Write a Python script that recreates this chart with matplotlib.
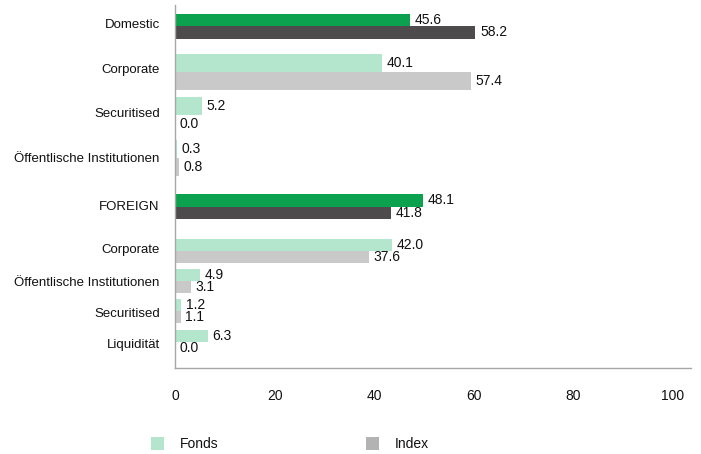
import matplotlib
matplotlib.use('Agg')
import matplotlib.pyplot as plt
from matplotlib.patches import Rectangle

plt.rcParams['font.family'] = ['Liberation Sans', 'DejaVu Sans']

# data
categories = ['Domestic', 'Corporate', 'Securitised', 'Öffentlische Institutionen',
              'FOREIGN', 'Corporate', 'Öffentlische Institutionen', 'Securitised', 'Liquidität']
fonds = [45.6, 40.1, 5.2, 0.3, 48.1, 42.0, 4.9, 1.2, 6.3]
index = [58.2, 57.4, 0.0, 0.8, 41.8, 37.6, 3.1, 1.1, 0.0]
is_total = [True, False, False, False, True, False, False, False, False]
tick_values = [0, 20, 40, 60, 80, 100]

# layout (row centres / bar heights in pixel-like units, axis runs 5..368)
row_pos = [26, 71.7, 115, 157.7, 206.7, 250.7, 281.3, 311.3, 341.7]
label_pos = [24, 68.5, 112.5, 157.7, 206, 249, 281, 312.5, 343.5]
bar_h = [12.5, 18, 18, 18, 12.5, 12, 12, 12, 12]

GREEN_DARK = '#0ca14f'
GREY_DARK = '#4d4b4c'
GREEN_LIGHT = '#b3e6cc'
GREY_LIGHT = '#c9c9c9'
LEGEND_GREY = '#b3b3b3'
SPINE = '#a6a6a6'
TEXT = '#111111'

W, H = 701, 454
fig = plt.figure(figsize=(W / 100, H / 100), dpi=100)
ax = fig.add_axes([175 / W, 1 - 368 / H, (691 - 175) / W, (368 - 5) / H])

for i, cat in enumerate(categories):
    c_f = GREEN_DARK if is_total[i] else GREEN_LIGHT
    c_i = GREY_DARK if is_total[i] else GREY_LIGHT
    y = row_pos[i]
    h = bar_h[i]
    ax.barh(y - h / 2, fonds[i], height=h, color=c_f, linewidth=0)
    ax.barh(y + h / 2, index[i], height=h, color=c_i, linewidth=0)
    ax.text(fonds[i] + 0.9, y - h / 2, f'{fonds[i]:.1f}', va='center', ha='left',
            fontsize=10, color=TEXT)
    ax.text(index[i] + 0.9, y + h / 2, f'{index[i]:.1f}', va='center', ha='left',
            fontsize=10, color=TEXT)

ax.set_xlim(0, 100)
ax.set_ylim(368, 5)
ax.set_yticks(label_pos)
ax.set_yticklabels(categories, fontsize=9.5, color=TEXT)
# the reference's tick labels sit slightly compressed relative to the bars
ax.set_xticks([v * 0.965 for v in tick_values])
ax.set_xticklabels([str(v) for v in tick_values], fontsize=10, color=TEXT)
ax.tick_params(axis='y', length=0, pad=11)
ax.tick_params(axis='x', length=0, pad=15)

for s in ['top', 'right']:
    ax.spines[s].set_visible(False)
for s in ['left', 'bottom']:
    ax.spines[s].set_color(SPINE)
    ax.spines[s].set_linewidth(1)

# legend
for x0, col, lab in [(151, GREEN_LIGHT, 'Fonds'), (366, LEGEND_GREY, 'Index')]:
    fig.patches.append(Rectangle((x0 / W, 1 - 450 / H), 13 / W, 13 / H,
                                 transform=fig.transFigure, color=col, linewidth=0))
    fig.text((x0 + 29) / W, 1 - 443.5 / H, lab, fontsize=10, va='center', ha='left', color=TEXT)

fig.savefig('out.png', dpi=100)
